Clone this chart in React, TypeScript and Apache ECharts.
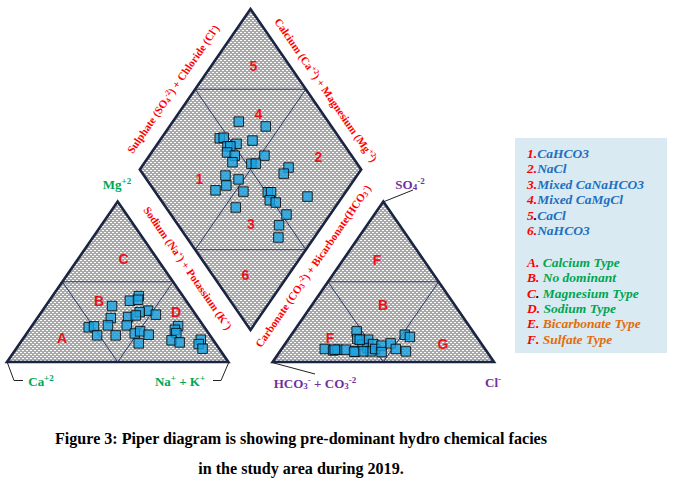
import React, { useEffect, useRef } from "react";
import * as echarts from "echarts";

// Cation triangle samples: [Ca, Mg, Na+K] (%)
const cationSamples: number[][] = [
  [19.9, 41.1, 39.0], [25.4, 38.2, 36.4], [21.4, 38.8, 39.8], [35.1, 34.9, 30.0],
  [20.3, 32.0, 47.7], [24.5, 31.1, 44.4], [18.0, 29.5, 52.5], [31.3, 28.0, 40.7],
  [39.4, 27.4, 33.2], [27.3, 29.0, 43.7], [43.0, 22.8, 34.2], [34.5, 22.8, 42.7],
  [52.3, 21.6, 26.1], [49.6, 22.2, 28.2], [51.0, 16.6, 32.4], [42.6, 16.6, 40.8],
  [33.4, 17.8, 48.8], [30.3, 19.1, 50.6], [27.5, 17.0, 55.5], [34.7, 11.6, 53.7],
  [11.5, 22.4, 66.1], [14.1, 20.1, 65.8], [14.5, 18.0, 67.5], [18.9, 13.5, 67.6],
  [15.9, 12.2, 71.9], [5.5, 13.9, 80.6], [7.8, 11.2, 81.0], [7.5, 8.3, 84.2],
];

// Anion triangle samples: [HCO3+CO3, SO4, Cl] (%)
const anionSamples: number[][] = [
  [72.4, 8.1, 19.5], [69.1, 7.2, 23.7], [66.8, 7.7, 25.5], [63.1, 7.7, 29.2],
  [52.5, 19.1, 28.4], [54.6, 14.3, 31.1], [59.3, 6.6, 34.1], [54.0, 10.8, 35.2],
  [49.9, 13.9, 36.2], [52.8, 8.7, 38.5], [49.0, 11.2, 39.8], [52.5, 6.6, 40.9],
  [49.6, 8.1, 42.3], [45.7, 10.2, 44.1], [47.7, 6.2, 46.1], [40.9, 11.6, 47.5],
  [40.3, 8.1, 51.6], [36.5, 6.6, 56.9], [31.8, 17.0, 51.2], [30.2, 15.6, 54.2],
  [55.8, 6.6, 37.6], [60.0, 6.4, 33.6], [68.1, 7.7, 24.2], [53.7, 13.9, 32.4],
];

// Diamond samples: [Ca+Mg, SO4+Cl] (%)
const diamondSamples: number[][] = [
  [70.2, 59.6], [56.5, 70.3], [73.6, 45.8], [72.0, 47.8], [58.1, 59.9],
  [64.3, 51.7], [67.6, 46.8], [66.3, 48.1], [65.9, 44.7], [61.4, 47.2],
  [48.0, 60.6], [60.4, 44.1], [51.4, 52.2], [49.4, 54.2], [33.4, 67.8],
  [33.7, 63.7], [59.4, 36.8], [52.3, 41.5], [55.9, 34.1], [59.3, 27.7],
  [46.3, 39.9], [35.1, 50.7], [33.6, 52.2], [15.8, 67.3], [31.7, 49.1],
  [28.3, 51.1], [44.8, 31.5], [19.7, 52.2], [19.7, 45.5], [16.2, 41.4],
];

const faciesLegend = ["CaHCO3", "NaCl", "Mixed CaNaHCO3", "Mixed CaMgCl", "CaCl", "NaHCO3"];
const typeLegend = [
  ["A", "Calcium Type"], ["B", "No dominant"], ["C", "Magnesium Type"],
  ["D", "Sodium Type"], ["E", "Bicarbonate Type"], ["F", "Sulfate Type"],
];
const captionLines = [
  "Figure 3: Piper diagram is showing pre-dominant hydro chemical facies",
  "in the study area during 2019.",
];

const H = Math.sqrt(3) / 2;
const GAP = 20;

const cationXY = (s: number[]) => [s[2] + s[1] / 2, s[1] * H];
const anionXY = (s: number[]) => [100 + GAP + s[2] + s[1] / 2, s[1] * H];
const diamondXY = (s: number[]) => [100 + GAP / 2 + (s[1] - s[0]) / 2, GAP * H + (s[1] + s[0]) * H];

const SERIF = '"Liberation Serif", "Times New Roman", serif';
const SANS = '"Liberation Sans", Arial, sans-serif';
const RED = "#e8141b";
const GREEN = "#00a651";
const PURPLE = "#7030a0";
const ANG = Math.atan2(86.6 * 353 / 190.53, 50 * 487 / 220);

function makePattern() {
  const c = document.createElement("canvas");
  c.width = 4;
  c.height = 4;
  const g = c.getContext("2d")!;
  g.fillStyle = "#a8a8a8";
  g.fillRect(0, 0, 4, 4);
  g.fillStyle = "#ffffff";
  g.fillRect(0, 0, 2, 1);
  g.fillRect(2, 2, 2, 1);
  return { image: c, repeat: "repeat", imageWidth: 4, imageHeight: 4 };
}

export default function App() {
  const ref = useRef<HTMLDivElement>(null);
  useEffect(() => {
    const chart = echarts.init(ref.current!, null, { renderer: "svg" });
    const pattern = makePattern();

    const shapes = [
      [[0, 0], [100, 0], [50, 100 * H]],
      [[120, 0], [220, 0], [170, 100 * H]],
      [[110, 20 * H], [160, 120 * H], [110, 220 * H], [60, 120 * H]],
    ];
    const inner = [
      [[25, 50 * H], [75, 50 * H]], [[25, 50 * H], [50, 0], [75, 50 * H]],
      [[145, 50 * H], [195, 50 * H]], [[145, 50 * H], [170, 0], [195, 50 * H]],
      [[85, 170 * H], [135, 170 * H]], [[85, 70 * H], [135, 70 * H]],
      [[85, 170 * H], [135, 70 * H]], [[135, 170 * H], [85, 70 * H]],
    ];

    const edgeRich = {
      t: { font: `bold 11px ${SERIF}`, fill: "#ff0000", lineHeight: 13 },
      sp: { font: `bold 7.5px ${SERIF}`, fill: "#ff0000", verticalAlign: "top" },
      sb: { font: `bold 7.5px ${SERIF}`, fill: "#ff0000", verticalAlign: "bottom" },
    };
    const vRich = (col: string) => ({
      b: { font: `bold 13px ${SERIF}`, fill: col, lineHeight: 15 },
      sp: { font: `bold 9px ${SERIF}`, fill: col, verticalAlign: "top" },
      sb: { font: `bold 9px ${SERIF}`, fill: col, verticalAlign: "bottom" },
    });

    const edgeLabels = [
      { x: 173, y: 89, r: ANG, t: "{t|Sulphate (SO}{sb|4}{sp|-2}{t|) + Chloride (Cl}{sp|-}{t|)}" },
      { x: 326, y: 90, r: -ANG, t: "{t|Calcium (Ca}{sp|+2}{t|) + Magnesium (Mg}{sp|+2}{t|)}" },
      { x: 188, y: 268, r: -ANG, t: "{t|Sodium (Na}{sp|+}{t|) + Potassium (K}{sp|+}{t|)}" },
      { x: 313, y: 266, r: ANG, t: "{t|Carbonate (CO}{sb|3}{sp|-2}{t|) + Bicarbonate(HCO}{sb|3}{sp|-}{t|)}" },
    ];
    const vertexLabels = [
      { x: 117, y: 184, c: GREEN, t: "{b|Mg}{sp|+2}" },
      { x: 41, y: 381, c: GREEN, t: "{b|Ca}{sp|+2}" },
      { x: 180, y: 381, c: GREEN, t: "{b|Na}{sp|+}{b| + K}{sp|+}" },
      { x: 410, y: 184, c: PURPLE, t: "{b|SO}{sb|4}{sp|-2}" },
      { x: 315, y: 383, c: PURPLE, t: "{b|HCO}{sb|3}{sp|-}{b| + CO}{sb|3}{sp|-2}" },
      { x: 493, y: 382, c: PURPLE, t: "{b|Cl}{sp|-}" },
    ];
    const regionLabels = [
      ["5", 253.5, 66], ["4", 258.5, 113.5], ["2", 318.5, 157], ["1", 199.5, 178.5],
      ["3", 251, 223.5], ["6", 245.5, 275], ["C", 123.5, 258.5], ["B", 99, 301],
      ["D", 176, 312], ["A", 62, 337.5], ["F", 377, 259.5], ["B", 383, 305],
      ["F", 330, 337.5], ["G", 443, 344],
    ];

    const graphics: any[] = [];
    regionLabels.forEach(([t, x, y]) =>
      graphics.push({
        type: "text", x, y, z: 2,
        style: { text: t, font: `bold 14px ${SANS}`, fill: RED, align: "center", verticalAlign: "middle" },
      })
    );
    edgeLabels.forEach((e) =>
      graphics.push({
        type: "text", x: e.x, y: e.y, rotation: e.r, z: 5,
        style: { text: e.t, rich: edgeRich, align: "center", verticalAlign: "middle" },
      })
    );
    vertexLabels.forEach((v) =>
      graphics.push({
        type: "text", x: v.x, y: v.y, z: 5,
        style: { text: v.t, rich: vRich(v.c), align: "center", verticalAlign: "middle" },
      })
    );
    const lead = { stroke: "#222", lineWidth: 1, fill: "none" };
    graphics.push({ type: "polyline", z: 5, shape: { points: [[7.5, 363], [14, 380.5], [23, 380.5]] }, style: lead });
    graphics.push({ type: "polyline", z: 5, shape: { points: [[213, 380.5], [221, 380.5], [228.5, 363]] }, style: lead });
    graphics.push({ type: "line", z: 5, shape: { x1: 383, y1: 202, x2: 413, y2: 190 }, style: lead });
    graphics.push({ type: "line", z: 5, shape: { x1: 272, y1: 362.5, x2: 315, y2: 374 }, style: lead });

    graphics.push({ type: "rect", z: 4, shape: { x: 515, y: 138, width: 152, height: 215 }, style: { fill: "#d9eaf3" } });
    const lf = `bold italic 13.5px ${SERIF}`;
    faciesLegend.forEach((name, i) =>
      graphics.push({
        type: "text", x: 527, y: 153 + i * 15.5, z: 5,
        style: {
          text: `{n|${i + 1}}{d|.}{t|${name}}`,
          rich: {
            n: { font: lf, fill: "#ff0000" },
            d: { font: lf, fill: i === 4 ? "#000000" : "#ff0000" },
            t: { font: lf, fill: "#1f6fbf" },
          },
          verticalAlign: "middle",
        },
      })
    );
    typeLegend.forEach(([k, name], i) =>
      graphics.push({
        type: "text", x: 527, y: 262.5 + i * 15.3, z: 5,
        style: {
          text: `{n|${k}}{d|.}{t| ${name}}`,
          rich: {
            n: { font: lf, fill: "#ff0000" },
            d: { font: lf, fill: k === "C" ? "#000000" : "#ff0000" },
            t: { font: lf, fill: i < 4 ? "#00a550" : "#e46c0a" },
          },
          verticalAlign: "middle",
        },
      })
    );
    captionLines.forEach((line, i) =>
      graphics.push({
        type: "text", x: 301, y: 438 + i * 30, z: 5, scaleX: 0.948,
        style: { text: line, font: `bold 17px ${SERIF}`, fill: "#000", align: "center", verticalAlign: "middle" },
      })
    );

    const pointStyle = { color: "#19a2e2", borderColor: "#000000", borderWidth: 1 };
    const scatter = (data: number[][]) => ({
      type: "scatter", z: 3, symbol: "rect", symbolSize: 9.5, data, itemStyle: pointStyle, silent: true,
    });

    chart.setOption({
      animation: false,
      backgroundColor: "#ffffff",
      grid: { left: 7, top: 9, width: 487, height: 353 },
      xAxis: { type: "value", min: 0, max: 220, show: false },
      yAxis: { type: "value", min: 0, max: 220 * H, show: false },
      graphic: { elements: graphics },
      series: [
        {
          type: "custom", z: 1, silent: true, clip: false,
          data: [0],
          renderItem: (_p: any, api: any) => {
            const P = (pts: number[][]) => pts.map((p) => api.coord(p));
            const children: any[] = [];
            shapes.forEach((s) => children.push({ type: "polygon", shape: { points: P(s) }, style: { fill: pattern, stroke: "none" } }));
            inner.forEach((s) => children.push({ type: "polyline", shape: { points: P(s) }, style: { fill: "none", stroke: "#2b3a6b", lineWidth: 1 } }));
            shapes.forEach((s) => children.push({ type: "polygon", shape: { points: P(s) }, style: { fill: "none", stroke: "#1b2442", lineWidth: 2.6 } }));
            return { type: "group", children };
          },
        },
        scatter(cationSamples.map(cationXY)),
        scatter(anionSamples.map(anionXY)),
        scatter(diamondSamples.map(diamondXY)),
      ],
    });
    return () => chart.dispose();
  }, []);
  return <div ref={ref} style={{ position: "absolute", left: 0, top: 0, width: 680, height: 489 }} />;
}
